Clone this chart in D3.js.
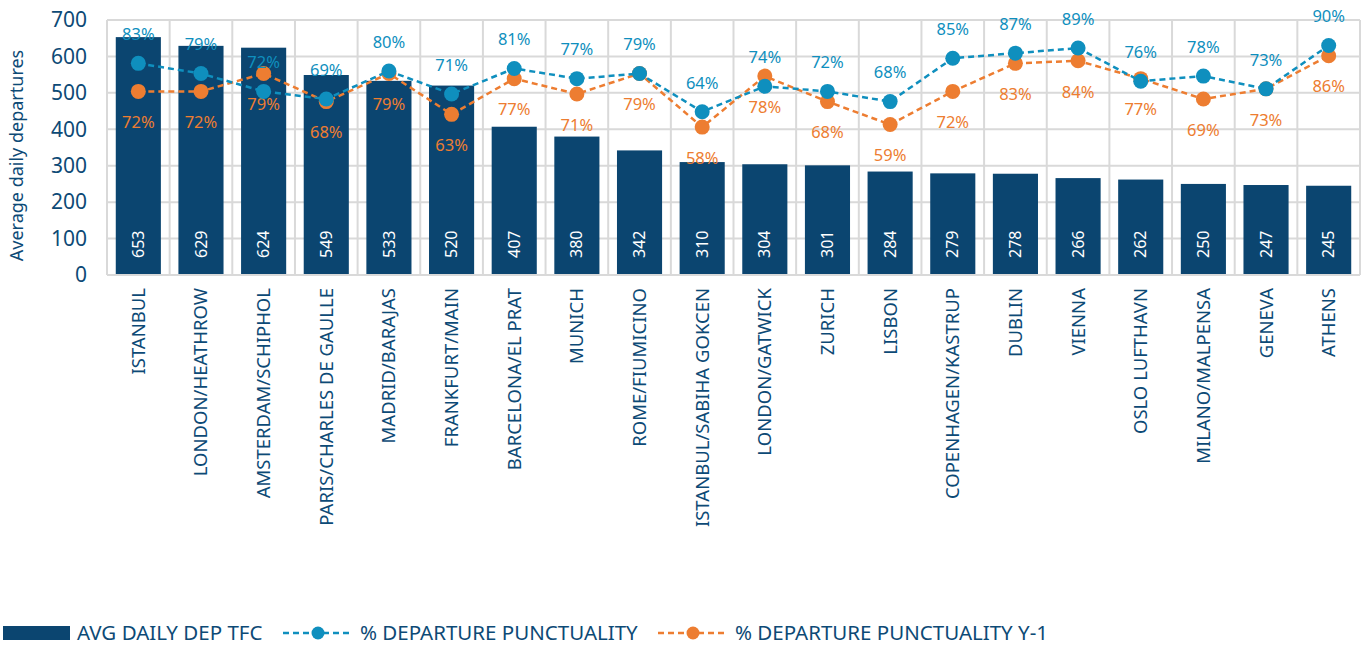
<!DOCTYPE html>
<html>
<head>
<meta charset="utf-8">
<script src="https://cdn.jsdelivr.net/npm/d3@7"></script>
<style>
  body { margin: 0; background: #fff; }
  svg text { font-family: "Noto Sans", "DejaVu Sans", sans-serif; }
</style>
</head>
<body>
<svg id="chart" width="1363" height="646"></svg>
<script>
const airports = ["ISTANBUL", "LONDON/HEATHROW", "AMSTERDAM/SCHIPHOL", "PARIS/CHARLES DE GAULLE",
  "MADRID/BARAJAS", "FRANKFURT/MAIN", "BARCELONA/EL PRAT", "MUNICH", "ROME/FIUMICINO",
  "ISTANBUL/SABIHA GOKCEN", "LONDON/GATWICK", "ZURICH", "LISBON", "COPENHAGEN/KASTRUP",
  "DUBLIN", "VIENNA", "OSLO LUFTHAVN", "MILANO/MALPENSA", "GENEVA", "ATHENS"];
const avgDailyDep = [653, 629, 624, 549, 533, 520, 407, 380, 342, 310, 304, 301, 284, 279, 278, 266, 262, 250, 247, 245];
const punctuality = [83, 79, 72, 69, 80, 71, 81, 77, 79, 64, 74, 72, 68, 85, 87, 89, 76, 78, 73, 90];
const punctualityPrev = [72, 72, 79, 68, 79, 63, 77, 71, 79, 58, 78, 68, 59, 72, 83, 84, 77, 69, 73, 86];
const yTicks = [0, 100, 200, 300, 400, 500, 600, 700];

const textCol = "#0d4a76";
const barCol = "#0b4570";
const blueCol = "#0f8fbe";
const orangeCol = "#ed7d31";
const gridCol = "#d9d9d9";

const svg = d3.select("#chart");
const margin = { top: 20, left: 107, right: 3 };
const width = 1363 - margin.left - margin.right;
const height = 255;

const g = svg.append("g").attr("transform", `translate(${margin.left},${margin.top})`);

const x = d3.scaleBand().domain(airports).range([0, width]).paddingInner(0.28).paddingOuter(0.14);
const y = d3.scaleLinear().domain([0, 700]).range([height, 0]);
const y2 = d3.scaleLinear().domain([0, 100]).range([height, 0]);
const step = x.step();

// grid
g.selectAll(".hgrid").data(yTicks).enter().append("line")
  .attr("x1", 0).attr("x2", width)
  .attr("y1", d => y(d)).attr("y2", d => y(d))
  .attr("stroke", gridCol).attr("stroke-width", 2);
g.selectAll(".vgrid").data(d3.range(airports.length + 1)).enter().append("line")
  .attr("x1", d => d * step).attr("x2", d => d * step)
  .attr("y1", 0).attr("y2", height)
  .attr("stroke", gridCol).attr("stroke-width", 2);

// y axis
const yAxis = g.append("g").call(d3.axisLeft(y).tickValues(yTicks).tickSize(0).tickPadding(20));
yAxis.select(".domain").remove();
yAxis.selectAll("text").attr("fill", textCol).attr("font-size", 21)
  .attr("font-family", "'Noto Sans', sans-serif");

svg.append("text")
  .attr("transform", `translate(17,${margin.top + height / 2 + 8}) rotate(-90)`)
  .attr("text-anchor", "middle").attr("dy", "0.35em")
  .attr("fill", textCol).attr("font-size", 18)
  .text("Average daily departures");

// x axis labels
const xAxis = g.append("g").attr("transform", `translate(0,${height})`)
  .call(d3.axisBottom(x).tickSize(0).tickPadding(0));
xAxis.select(".domain").remove();
xAxis.selectAll("text")
  .attr("fill", textCol).attr("font-size", 18.5)
  .attr("font-family", "'Noto Sans', sans-serif")
  .attr("transform", "rotate(-90)")
  .attr("text-anchor", "end")
  .attr("dy", "0.35em")
  .attr("x", -13).attr("y", 0);

// bars
g.selectAll(".bar").data(avgDailyDep).enter().append("rect")
  .attr("x", (d, i) => x(airports[i]))
  .attr("y", d => y(d))
  .attr("width", x.bandwidth())
  .attr("height", d => height - y(d))
  .attr("fill", barCol);

g.selectAll(".barlabel").data(avgDailyDep).enter().append("text")
  .attr("transform", (d, i) => `translate(${x(airports[i]) + x.bandwidth() / 2},${height - 17}) rotate(-90)`)
  .attr("dy", "0.35em")
  .attr("fill", "#fff").attr("font-size", 16)
  .text(d => d);

// axis baseline
g.append("line").attr("x1", 0).attr("x2", width).attr("y1", height).attr("y2", height)
  .attr("stroke", gridCol).attr("stroke-width", 2);

// lines
const cx = i => x(airports[i]) + x.bandwidth() / 2;
const line = d3.line().x((d, i) => cx(i)).y(d => y2(d));

function drawSeries(values, col, labelDy) {
  g.append("path").datum(values)
    .attr("d", line)
    .attr("fill", "none").attr("stroke", col)
    .attr("stroke-width", 2.5).attr("stroke-dasharray", "6,4");
  g.selectAll(null).data(values).enter().append("circle")
    .attr("cx", (d, i) => cx(i)).attr("cy", d => y2(d))
    .attr("r", 7.5).attr("fill", col);
  g.selectAll(null).data(values).enter().append("text")
    .attr("x", (d, i) => cx(i)).attr("y", d => y2(d) + labelDy)
    .attr("text-anchor", "middle").attr("dy", "0.35em")
    .attr("fill", col).attr("font-size", 16.5)
    .text(d => d + "%");
}
drawSeries(punctualityPrev, orangeCol, 31);
drawSeries(punctuality, blueCol, -29);

// legend
const leg = svg.append("g").attr("transform", "translate(0,633)");
leg.append("rect").attr("x", 3).attr("y", -7).attr("width", 67).attr("height", 14).attr("fill", barCol);
leg.append("text").attr("x", 77).attr("dy", "0.35em").attr("fill", textCol).attr("font-size", 20.5)
  .text("AVG DAILY DEP TFC");

function legLine(x0, col, label) {
  leg.append("line").attr("x1", x0).attr("x2", x0 + 70).attr("y1", 0).attr("y2", 0)
    .attr("stroke", col).attr("stroke-width", 2.5).attr("stroke-dasharray", "6,4");
  leg.append("circle").attr("cx", x0 + 35).attr("cy", 0).attr("r", 6.5).attr("fill", col);
  leg.append("text").attr("x", x0 + 77).attr("dy", "0.35em").attr("fill", textCol).attr("font-size", 20.5)
    .text(label);
}
legLine(283, blueCol, "% DEPARTURE PUNCTUALITY");
legLine(658, orangeCol, "% DEPARTURE PUNCTUALITY Y-1");
</script>
</body>
</html>
